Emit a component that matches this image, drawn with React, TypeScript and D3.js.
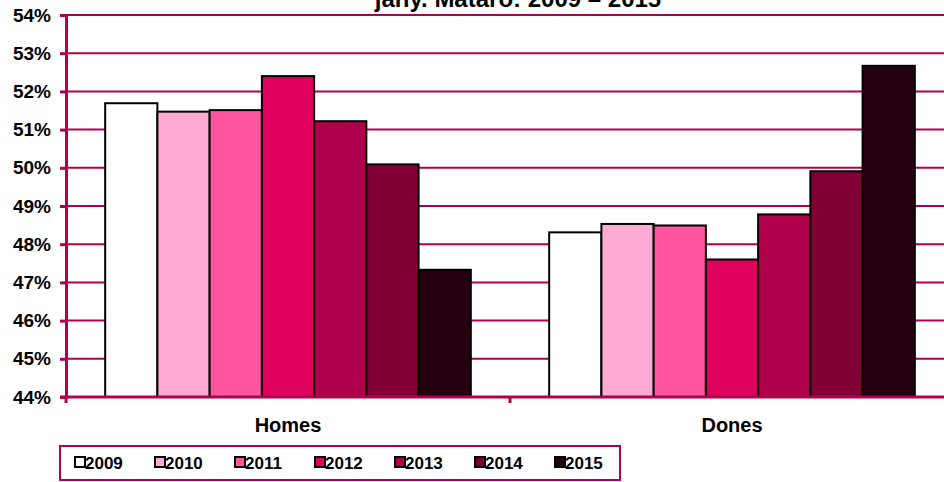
import { useEffect, useRef } from "react";
import * as d3 from "d3";

const categories = ["Homes", "Dones"];
const years = ["2009", "2010", "2011", "2012", "2013", "2014", "2015"];
const homesValues = [51.69, 51.47, 51.51, 52.4, 51.22, 50.09, 47.33];
const donesValues = [48.31, 48.53, 48.49, 47.6, 48.78, 49.91, 52.67];
const yearColors = ["#FFFFFF", "#FFAAD4", "#FF55A0", "#E0005E", "#B0004C", "#800035", "#250010"];
const yTicks = [44, 45, 46, 47, 48, 49, 50, 51, 52, 53, 54];
const title = "jany. Mataró: 2009 – 2015";

interface IBar {
  category: string;
  year: string;
  value: number;
}

function App() {
  const ref = useRef<SVGSVGElement>(null);

  useEffect(() => {
    const width = 944;
    const height = 482;
    const margin = { top: 15, left: 66, bottom: 85 };
    const axisColor = "#B0004E";
    const font = "'Liberation Sans', Arial, sans-serif";

    const svg = d3.select(ref.current);
    svg.selectAll("*").remove();

    const data: IBar[] = [];
    categories.forEach((c, ci) => {
      const vals = ci === 0 ? homesValues : donesValues;
      years.forEach((y, yi) => data.push({ category: c, year: y, value: vals[yi] }));
    });

    const x0 = d3
      .scaleBand<string>()
      .domain(categories)
      .range([margin.left, margin.left + 2 * 444]);
    const x1 = d3
      .scaleBand<string>()
      .domain(years)
      .range([0, x0.bandwidth()])
      .paddingInner(0)
      .paddingOuter(0.75);
    const y = d3
      .scaleLinear()
      .domain([44, 54])
      .range([height - margin.bottom, margin.top]);
    const color = d3.scaleOrdinal<string, string>().domain(years).range(yearColors);

    // title, cut off at the top like in the source
    svg
      .append("text")
      .attr("x", 518)
      .attr("y", 7)
      .attr("text-anchor", "middle")
      .style("font-family", font)
      .style("font-weight", "bold")
      .style("font-size", "24px")
      .text(title);

    // gridlines
    svg
      .append("g")
      .selectAll("line")
      .data(yTicks.slice(1))
      .join("line")
      .attr("x1", margin.left)
      .attr("x2", width)
      .attr("y1", (d) => y(d))
      .attr("y2", (d) => y(d))
      .attr("stroke", axisColor)
      .attr("stroke-width", 2);

    // bars
    svg
      .append("g")
      .selectAll("rect")
      .data(data)
      .join("rect")
      .attr("x", (d) => (x0(d.category) ?? 0) + (x1(d.year) ?? 0))
      .attr("y", (d) => y(d.value))
      .attr("width", x1.bandwidth())
      .attr("height", (d) => y(44) - y(d.value))
      .attr("fill", (d) => color(d.year))
      .attr("stroke", "#000")
      .attr("stroke-width", 2);

    // y axis
    const yAxis = svg
      .append("g")
      .attr("transform", `translate(${margin.left},0)`)
      .call(d3.axisLeft(y).tickValues(yTicks).tickSize(6).tickFormat((d) => `${d}%`));
    yAxis.select(".domain").attr("stroke", axisColor).attr("stroke-width", 3);
    yAxis.selectAll(".tick line").attr("stroke", axisColor).attr("stroke-width", 3);
    yAxis
      .selectAll(".tick text")
      .attr("x", -15)
      .attr("fill", "#000")
      .style("font-family", font)
      .style("font-weight", "bold")
      .style("font-size", "19px");

    // x axis
    const xAxisY = y(44);
    svg
      .append("line")
      .attr("x1", margin.left - 6)
      .attr("x2", width)
      .attr("y1", xAxisY)
      .attr("y2", xAxisY)
      .attr("stroke", axisColor)
      .attr("stroke-width", 3);
    svg
      .append("g")
      .selectAll("line")
      .data(categories)
      .join("line")
      .attr("x1", (d) => x0(d) ?? 0)
      .attr("x2", (d) => x0(d) ?? 0)
      .attr("y1", xAxisY)
      .attr("y2", xAxisY + 6)
      .attr("stroke", axisColor)
      .attr("stroke-width", 3);
    svg
      .append("g")
      .selectAll("text")
      .data(categories)
      .join("text")
      .attr("x", (d) => (x0(d) ?? 0) + x0.bandwidth() / 2)
      .attr("y", 432)
      .attr("text-anchor", "middle")
      .style("font-family", font)
      .style("font-weight", "bold")
      .style("font-size", "20px")
      .text((d) => d);

    // legend
    const legend = svg.append("g");
    legend
      .append("rect")
      .attr("x", 60)
      .attr("y", 446)
      .attr("width", 560)
      .attr("height", 34)
      .attr("fill", "#fff")
      .attr("stroke", axisColor)
      .attr("stroke-width", 2);
    const items = legend
      .selectAll("g")
      .data(years)
      .join("g")
      .attr("transform", (_d, i) => `translate(${75 + i * 80},457)`);
    items
      .append("rect")
      .attr("width", 10)
      .attr("height", 10)
      .attr("fill", (d) => color(d))
      .attr("stroke", "#000")
      .attr("stroke-width", 2);
    items
      .append("text")
      .attr("x", 10)
      .attr("y", 11.5)
      .style("font-family", font)
      .style("font-weight", "bold")
      .style("font-size", "17px")
      .text((d) => d);
  }, []);

  return (
    <svg
      ref={ref}
      width={944}
      height={482}
      style={{ position: "absolute", left: 0, top: 0, background: "#fff" }}
    />
  );
}

export default App;
